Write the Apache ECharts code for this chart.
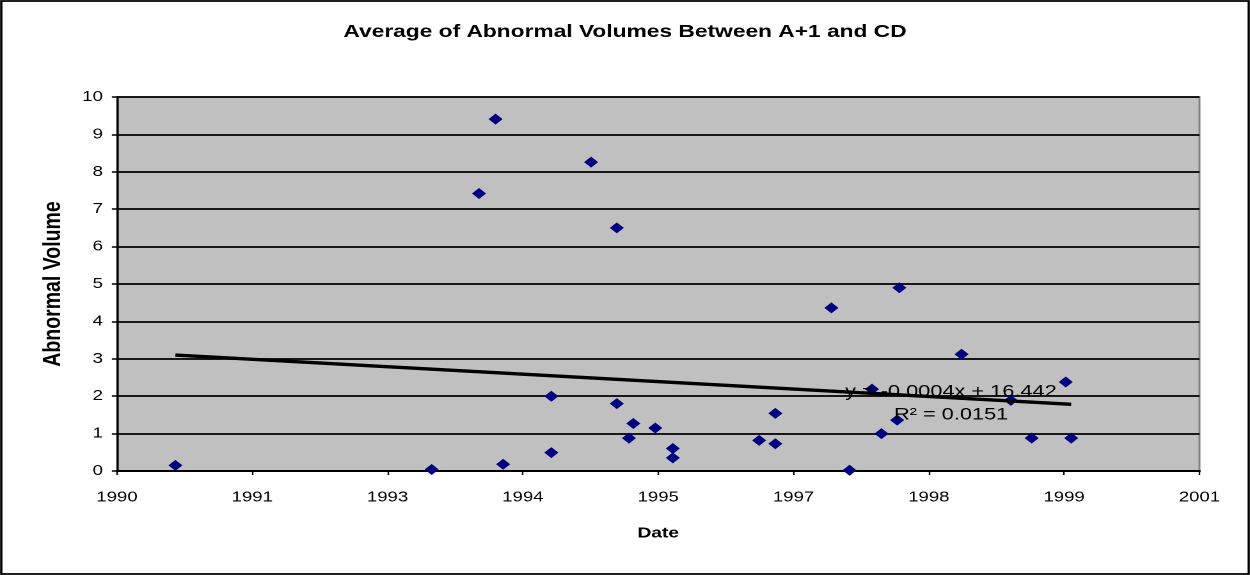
<!DOCTYPE html>
<html>
<head>
<meta charset="utf-8">
<script src="https://cdn.jsdelivr.net/npm/echarts@6/dist/echarts.min.js"></script>
<style>
  html, body { margin: 0; padding: 0; background: #fff; overflow: hidden; }
  #wrap { width: 1250px; height: 575px; overflow: hidden; }
  #chart { width: 977px; height: 575px; transform: scaleX(1.27943); transform-origin: 0 0; }
</style>
</head>
<body>
<div id="wrap"><div id="chart"></div></div>
<script>
// Dates are Excel serial day numbers (1 = 1900-01-01), as in the source workbook.
const dates = [33216, 34163, 34338, 34399, 34427, 34605, 34605, 34752, 34847, 34847,
               34892, 34908, 34989, 35054, 35054, 35373, 35433, 35433, 35640, 35707,
               35790, 35825, 35883, 35891, 36121, 36303, 36380, 36506, 36526];
const values = [0.15, 0.04, 7.42, 9.41, 0.18, 2.00, 0.49, 8.26, 6.50, 1.80,
                0.88, 1.27, 1.15, 0.60, 0.35, 0.82, 0.73, 1.54, 4.36, 0.02,
                2.19, 1.00, 1.36, 4.90, 3.12, 1.89, 0.88, 2.38, 0.88];
const xMin = 33000, xMax = 37000, xStep = 500;
const yMin = 0, yMax = 10, yStep = 1;
const titleText = 'Average of Abnormal Volumes Between A+1 and CD';
const xName = 'Date';
const yName = 'Abnormal Volume';
const eqText = 'y = -0.0004x + 16.442';
const r2Text = 'R\u00B2 = 0.0151';

function serialToYear(s) {
  const d = new Date((s - 25569) * 86400000);
  return String(d.getUTCFullYear());
}

// least-squares linear trend line through the data
const n = dates.length;
let sx = 0, sy = 0, sxx = 0, sxy = 0;
for (let i = 0; i < n; i++) { sx += dates[i]; sy += values[i]; sxx += dates[i] * dates[i]; sxy += dates[i] * values[i]; }
const slope = (n * sxy - sx * sy) / (n * sxx - sx * sx);
const intercept = (sy - slope * sx) / n;
const tMin = Math.min(...dates), tMax = Math.max(...dates);
const trend = [[tMin, slope * tMin + intercept], [tMax, slope * tMax + intercept]];

const FONT = 'Liberation Sans, Arial, sans-serif';
const chart = echarts.init(document.getElementById('chart'), null, { renderer: 'canvas', devicePixelRatio: 2 });
chart.setOption({
  backgroundColor: '#ffffff',
  animation: false,
  title: {
    text: titleText, left: 'center', top: 18,
    textStyle: { fontFamily: FONT, fontSize: 17.8, fontWeight: 'bold', color: '#000' }
  },
  grid: {
    left: 91.4, right: 39.5, top: 97, bottom: 104,
    show: true, backgroundColor: '#C0C0C0', borderColor: '#808080', borderWidth: 1.5
  },
  xAxis: {
    type: 'value', min: xMin, max: xMax, interval: xStep,
    name: xName, nameLocation: 'middle', nameGap: 55,
    nameTextStyle: { fontFamily: FONT, fontSize: 15, fontWeight: 'bold', color: '#000' },
    axisLine: { show: true, onZero: false, lineStyle: { color: '#000', width: 2 } },
    axisTick: { show: true, length: 4, lineStyle: { color: '#000', width: 1.2 } },
    axisLabel: { margin: 19, fontFamily: FONT, fontSize: 14.5, color: '#000', formatter: v => serialToYear(v) },
    splitLine: { show: false }
  },
  yAxis: {
    type: 'value', min: yMin, max: yMax, interval: yStep,
    name: yName, nameLocation: 'middle', nameGap: 40, nameRotate: 90,
    nameTextStyle: { fontFamily: FONT, fontSize: 19.5, fontWeight: 'bold', color: '#000' },
    axisLine: { show: true, lineStyle: { color: '#000', width: 1.6 } },
    axisTick: { show: true, length: 4, lineStyle: { color: '#000', width: 1.5 } },
    axisLabel: { margin: 11, fontFamily: FONT, fontSize: 14.5, color: '#000' },
    splitLine: { show: true, lineStyle: { color: '#000', width: 1.7 } }
  },
  series: [
    {
      type: 'scatter', data: dates.map((d, i) => [d, values[i]]),
      symbol: 'diamond', symbolSize: [11, 11], clip: false,
      itemStyle: { color: '#000080', opacity: 1 }, z: 3
    },
    {
      type: 'line', data: trend, showSymbol: false, symbol: 'none',
      lineStyle: { color: '#000', width: 3.4 }, z: 4
    }
  ],
  graphic: [
    { type: 'rect', shape: { x: 1, y: 1, width: 975, height: 573 }, style: { fill: 'none', stroke: '#000', lineWidth: 1.8 }, z: 10 },
    { type: 'text', x: 660.5, y: 392, style: { text: eqText, fontFamily: FONT, fontSize: 17, fill: '#000', align: 'left', verticalAlign: 'middle' }, z: 10 },
    { type: 'text', x: 698.7, y: 415, style: { text: r2Text, fontFamily: FONT, fontSize: 17, fill: '#000', align: 'left', verticalAlign: 'middle' }, z: 10 }
  ]
});
</script>
</body>
</html>
